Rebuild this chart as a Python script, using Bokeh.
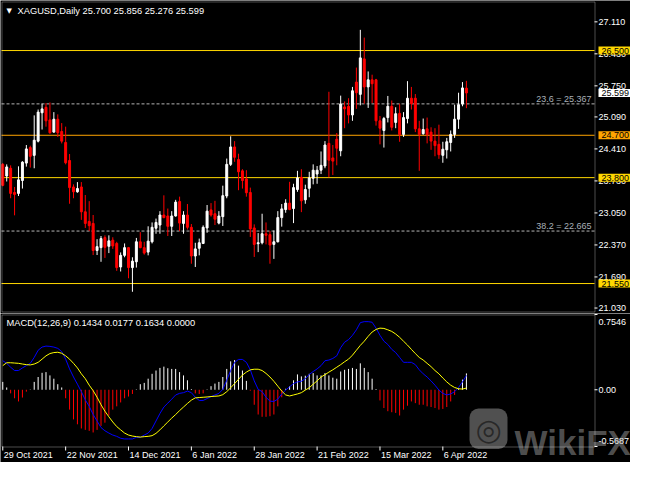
from bokeh.plotting import figure
from bokeh.models import Range1d, Label, ColumnDataSource, BoxAnnotation
from bokeh.core.properties import value
from bokeh.layouts import column
from bokeh.embed import file_html
from bokeh.resources import INLINE

# ---------------- data ----------------
title_text = "XAGUSD,Daily  25.700 25.856 25.276 25.599"
macd_text = "MACD(12,26,9) 0.1434 0.0177 0.1634 0.0000"

opens = [24.082, 23.835, 23.999, 23.485, 23.465, 23.739, 24.109, 24.438, 24.273, 24.575,
         25.178, 25.294, 25.027, 24.767, 25.041, 24.781, 24.548, 24.164, 23.602, 23.499,
         23.602, 23.074, 22.869, 22.827, 22.252, 22.313, 22.526, 22.341, 22.471, 22.402,
         21.902, 22.149, 22.313, 21.889, 22.012, 22.437, 22.313, 22.218, 22.437, 22.725,
         22.793, 23.006, 22.985, 22.766, 22.985, 23.293, 22.827, 23.006, 22.745, 22.135,
         22.300, 22.402, 22.731, 23.115, 23.033, 22.834, 22.971, 23.410, 24.082, 24.452,
         24.184, 23.944, 23.773, 23.485, 22.731, 22.396, 22.416, 22.608, 22.588, 22.382,
         22.437, 22.951, 23.122, 23.259, 23.143, 23.547, 23.807, 23.328, 23.574, 23.787,
         23.876, 23.958, 24.048, 24.528, 24.219, 24.617, 24.370, 25.302, 25.316, 25.131,
         25.830, 25.569, 26.323, 25.727, 25.878, 25.878, 25.007, 24.802, 25.076, 25.316,
         24.973, 25.165, 24.719, 25.055, 25.487, 25.487, 24.836, 24.733, 24.836, 24.767,
         24.576, 24.507, 24.274, 24.391, 24.548, 24.719, 25.042, 25.364, 25.700]
highs = [24.109, 24.082, 24.061, 23.602, 24.040, 24.150, 24.493, 24.479, 25.123, 25.247,
         25.370, 25.384, 25.397, 25.192, 25.144, 24.959, 24.883, 24.301, 23.657, 23.705,
         23.705, 23.431, 23.300, 23.006, 22.492, 22.560, 22.574, 22.574, 22.533, 22.437,
         22.211, 22.402, 22.327, 22.108, 22.519, 22.642, 22.437, 22.766, 22.848, 22.930,
         23.088, 23.424, 23.143, 23.088, 23.328, 23.396, 23.088, 23.239, 22.814, 22.416,
         22.505, 22.786, 23.218, 23.259, 23.307, 23.088, 23.629, 24.205, 24.678, 24.575,
         24.308, 23.979, 23.958, 23.588, 22.807, 22.622, 23.033, 22.848, 22.663, 22.677,
         23.088, 23.239, 23.341, 23.711, 23.670, 23.944, 23.979, 23.650, 23.924, 24.082,
         24.047, 24.356, 24.576, 25.624, 24.493, 24.747, 25.542, 25.419, 25.487, 25.727,
         26.138, 26.940, 26.775, 26.056, 25.987, 25.898, 25.110, 25.090, 25.535, 25.439,
         25.295, 25.371, 25.192, 25.850, 25.727, 25.576, 25.007, 25.055, 25.076, 24.870,
         24.850, 24.925, 24.562, 24.644, 24.802, 25.350, 25.604, 25.830, 25.856]
lows = [23.616, 23.718, 23.362, 22.999, 23.410, 23.568, 24.034, 24.013, 23.999, 24.548,
        24.822, 24.883, 24.733, 24.753, 24.664, 24.527, 24.082, 23.245, 23.362, 23.479,
        22.903, 22.731, 22.663, 22.156, 22.156, 22.012, 22.094, 22.197, 22.286, 21.820,
        21.806, 22.108, 21.662, 21.375, 21.889, 22.300, 22.163, 22.149, 22.402, 22.608,
        22.608, 22.937, 22.560, 22.560, 22.971, 22.663, 22.608, 22.697, 21.971, 21.902,
        22.149, 22.389, 22.629, 22.971, 22.793, 22.807, 22.773, 23.362, 24.047, 24.136,
        23.533, 23.568, 23.396, 22.540, 22.115, 22.218, 22.382, 22.382, 21.971, 22.074,
        22.423, 22.759, 23.054, 23.108, 22.834, 23.499, 23.067, 23.245, 23.383, 23.657,
        23.670, 23.876, 24.000, 23.808, 23.856, 24.062, 24.254, 24.850, 24.953, 25.007,
        25.261, 25.336, 25.371, 25.281, 25.384, 24.905, 24.507, 24.439, 24.973, 24.802,
        24.850, 24.562, 24.665, 24.953, 25.247, 24.767, 23.945, 24.713, 24.528, 24.391,
        24.254, 24.199, 24.116, 24.206, 24.356, 24.644, 24.836, 25.316, 25.276]
closes = [23.636, 24.027, 23.465, 23.444, 23.753, 24.129, 24.410, 24.253, 24.595, 25.192,
          25.260, 25.007, 24.753, 25.041, 24.753, 24.575, 24.116, 23.588, 23.499, 23.568,
          23.074, 22.827, 22.779, 22.252, 22.334, 22.505, 22.320, 22.457, 22.348, 21.889,
          22.149, 22.313, 21.889, 22.026, 22.437, 22.313, 22.197, 22.451, 22.745, 22.848,
          23.006, 22.951, 22.766, 22.985, 23.280, 22.834, 23.006, 22.745, 22.135, 22.286,
          22.416, 22.745, 23.088, 23.006, 22.917, 22.985, 23.417, 24.082, 24.452, 24.232,
          23.924, 23.739, 23.479, 22.711, 22.382, 22.416, 22.608, 22.574, 22.368, 22.437,
          22.951, 23.136, 23.259, 23.122, 23.588, 23.794, 23.307, 23.547, 23.794, 23.958,
          23.958, 24.061, 24.493, 24.171, 24.151, 24.425, 25.364, 25.261, 25.131, 25.645,
          25.604, 26.344, 25.727, 25.878, 25.795, 25.007, 24.850, 25.055, 25.316, 24.870,
          25.158, 24.713, 25.076, 25.487, 25.371, 24.836, 24.719, 24.822, 24.713, 24.576,
          24.480, 24.288, 24.404, 24.562, 24.719, 25.042, 25.350, 25.706, 25.599]

macd_main = [0.291, 0.265, 0.226, 0.193, 0.193, 0.219, 0.242, 0.265, 0.324, 0.396,
             0.428, 0.438, 0.435, 0.428, 0.415, 0.383, 0.307, 0.209, 0.128, 0.056,
             -0.019, -0.101, -0.166, -0.248, -0.313, -0.379, -0.411, -0.434, -0.454, -0.467,
             -0.486, -0.493, -0.493, -0.493, -0.477, -0.477, -0.454, -0.434, -0.388, -0.313,
             -0.238, -0.173, -0.134, -0.094, -0.052, -0.036, -0.029, -0.013, -0.029, -0.075,
             -0.107, -0.107, -0.088, -0.068, -0.052, -0.036, 0.004, 0.095, 0.193, 0.275,
             0.304, 0.304, 0.275, 0.200, 0.089, 0.004, -0.019, -0.075, -0.114, -0.117,
             -0.094, -0.042, -0.003, 0.030, 0.062, 0.079, 0.085, 0.111, 0.154, 0.183,
             0.209, 0.242, 0.291, 0.298, 0.314, 0.340, 0.422, 0.477, 0.503, 0.546,
             0.601, 0.673, 0.683, 0.683, 0.677, 0.618, 0.546, 0.487, 0.454, 0.405,
             0.373, 0.324, 0.275, 0.275, 0.275, 0.252, 0.200, 0.160, 0.128, 0.089,
             0.046, -0.003, -0.036, -0.052, -0.042, -0.019, 0.023, 0.079, 0.143]
macd_signal = [0.242, 0.271, 0.271, 0.268, 0.265, 0.258, 0.252, 0.249, 0.258, 0.275,
               0.307, 0.340, 0.363, 0.373, 0.376, 0.366, 0.340, 0.307, 0.265, 0.219,
               0.160, 0.111, 0.046, -0.009, -0.075, -0.150, -0.215, -0.271, -0.323, -0.369,
               -0.402, -0.434, -0.454, -0.464, -0.470, -0.474, -0.470, -0.467, -0.460, -0.437,
               -0.402, -0.362, -0.323, -0.284, -0.248, -0.209, -0.173, -0.137, -0.104, -0.081,
               -0.078, -0.075, -0.072, -0.068, -0.065, -0.062, -0.049, -0.019, 0.020, 0.062,
               0.105, 0.147, 0.177, 0.200, 0.206, 0.206, 0.193, 0.164, 0.128, 0.085,
               0.036, -0.013, -0.052, -0.062, -0.052, -0.042, -0.029, -0.003, 0.020, 0.056,
               0.089, 0.128, 0.151, 0.177, 0.200, 0.226, 0.252, 0.281, 0.307, 0.347,
               0.396, 0.445, 0.487, 0.536, 0.579, 0.605, 0.618, 0.615, 0.601, 0.585,
               0.559, 0.526, 0.487, 0.448, 0.405, 0.363, 0.324, 0.298, 0.265, 0.232,
               0.193, 0.160, 0.118, 0.079, 0.046, 0.023, 0.010, 0.007, 0.017]
macd_hist = [0.079, 0.023, -0.036, -0.085, -0.117, -0.078, -0.019, 0.003, 0.079, 0.128,
             0.170, 0.177, 0.144, 0.111, 0.056, 0.023, -0.085, -0.199, -0.297, -0.346,
             -0.388, -0.402, -0.412, -0.428, -0.402, -0.362, -0.330, -0.258, -0.199, -0.166,
             -0.127, -0.085, -0.068, -0.042, 0.004, 0.056, 0.069, 0.111, 0.160, 0.193,
             0.219, 0.232, 0.216, 0.209, 0.209, 0.177, 0.144, 0.095, 0.007, -0.036,
             -0.042, -0.036, 0.004, 0.036, 0.062, 0.079, 0.128, 0.209, 0.285, 0.298,
             0.242, 0.193, 0.089, -0.009, -0.150, -0.248, -0.271, -0.271, -0.265, -0.248,
             -0.166, -0.075, 0.010, 0.036, 0.095, 0.154, 0.134, 0.141, 0.160, 0.167,
             0.144, 0.144, 0.167, 0.144, 0.121, 0.111, 0.183, 0.200, 0.209, 0.219,
             0.209, 0.265, 0.219, 0.177, 0.111, 0.007, -0.107, -0.183, -0.215, -0.225,
             -0.232, -0.258, -0.199, -0.160, -0.117, -0.134, -0.150, -0.150, -0.166, -0.173,
             -0.183, -0.199, -0.192, -0.173, -0.117, -0.052, 0.013, 0.102, 0.164]

date_idx = [0, 16, 32, 48, 64, 80, 96, 112]
date_labels = ["29 Oct 2021", "22 Nov 2021", "14 Dec 2021", "6 Jan 2022",
               "28 Jan 2022", "21 Feb 2022", "15 Mar 2022", "6 Apr 2022"]
price_ticks = [27.110, 26.430, 25.750, 25.090, 24.410, 23.730, 23.050, 22.370, 21.690, 21.030]
gold_levels = [26.500, 23.800, 21.550]
orange_levels = [24.700]
fib_levels = [25.367, 22.665]
fib_names = ["23.6", "38.2"]
last_close = 25.599
macd_ticks = [0.7546, 0.0, -0.5687]
macd_tick_labels = ["0.7546", "0.00", "-0.5687"]

# ---------------- layout constants ----------------
FONT = "Liberation Sans"
W = 630
FW = 593          # panel width in px (panel starts at px 1)
F1 = 310          # price panel height
F2 = 132          # MACD panel height
H1 = F1 + 3
H2 = F2 + 17
X0, X1 = -0.325, 150.6
Y0, Y1 = 20.956, 27.542
M0, M1 = -0.5687, 0.7546
GOLD = "#FFD700"
ORANGE = "#FFA500"

xpx = (X1 - X0) / FW
ypx1 = (Y1 - Y0) / F1
ypx2 = (M1 - M0) / F2
XS = X0 - 1 * xpx
XE = XS + W * xpx

xr = Range1d(XS, XE)

n = len(closes)
idx = list(range(n))
bull = [c >= o for o, c in zip(opens, closes)]
src = ColumnDataSource(dict(
    x=idx, h=highs, l=lows,
    top=[max(o, c) for o, c in zip(opens, closes)],
    bot=[min(o, c) for o, c in zip(opens, closes)],
    col=["#FFFFFF" if b else "#FF0000" for b in bull],
))


def make_fig(h, y0, y1):
    p = figure(width=W, height=h, x_range=xr, y_range=Range1d(y0, y1),
               output_backend="svg", toolbar_location=None,
               x_axis_location=None, y_axis_location=None,
               background_fill_color="black", border_fill_color="black",
               outline_line_color=None,
               min_border_left=0, min_border_right=0, min_border_top=0, min_border_bottom=0)
    p.grid.visible = False
    return p


def hline(p, levels, color, dash="solid"):
    p.segment(x0=[X0] * len(levels), x1=[X1] * len(levels), y0=levels, y1=levels,
              line_color=color, line_width=1, line_dash=dash)


# ---------------- main price panel ----------------
p1 = make_fig(H1, Y0 - 2 * ypx1, Y1 + 1 * ypx1)

hline(p1, fib_levels, "#B4B4B4", "3 2")
hline(p1, gold_levels, GOLD)
hline(p1, orange_levels, ORANGE)

p1.segment(x0="x", y0="h", x1="x", y1="l", line_color="col", line_width=1, source=src)
p1.vbar(x="x", width=0.5, top="top", bottom="bot", fill_color="col",
        line_color="col", line_width=1, source=src)

# panel frame
p1.add_layout(BoxAnnotation(left=X0 + 0.5 * xpx, right=X1 + 0.5 * xpx,
                            top=Y1 - 0.5 * ypx1, bottom=Y0 - 0.5 * ypx1,
                            fill_alpha=0, line_color="white", line_width=1))

# right price scale
nt = len(price_ticks)
p1.segment(x0=[X1] * nt, x1=[X1 + 3 * xpx] * nt, y0=price_ticks, y1=price_ticks,
           line_color="white", line_width=1)
p1.text(x=[X1 + 4 * xpx] * nt, y=price_ticks, text=[f"{t:.3f}" for t in price_ticks],
        text_color="white", text_font=value(FONT), text_font_size="9px",
        text_align="left", text_baseline="middle")

# title
p1.add_layout(Label(x=X0 + 5 * xpx, y=Y1 - 9.5 * ypx1, text="\u25BC", text_color="white",
                    text_font="DejaVu Sans", text_font_size="7px",
                    text_align="left", text_baseline="middle"))
p1.add_layout(Label(x=X0 + 16 * xpx, y=Y1 - 9.5 * ypx1, text=title_text, text_color="white",
                    text_font=FONT, text_font_size="9.3px",
                    text_align="left", text_baseline="middle"))

# fib labels
for lv, nm in zip(fib_levels, fib_names):
    p1.add_layout(Label(x=X1 - 3 * xpx, y=lv + 5 * ypx1, text=f"{nm} = {lv:.3f}",
                        text_color="#A8B0B8", text_font=FONT, text_font_size="9px",
                        text_align="right", text_baseline="middle"))


def price_box(fig, yv, txt, bg):
    fig.add_layout(Label(x=X1 + 4 * xpx, y=yv, text=txt, text_color="black",
                         text_font=FONT, text_font_size="9px",
                         text_align="left", text_baseline="middle",
                         background_fill_color=bg, padding=(3, 1)))


for lv in gold_levels:
    price_box(p1, lv, f"{lv:.3f}", GOLD)
for lv in orange_levels:
    price_box(p1, lv, f"{lv:.3f}", ORANGE)
price_box(p1, last_close, f"{last_close:.3f}", "white")

# ---------------- MACD panel ----------------
p2 = make_fig(H2, M0 - 16 * ypx2, M1 + 1 * ypx2)

hsrc = ColumnDataSource(dict(x=idx, z=[0.0] * n, v=macd_hist,
                             col=["#FFFFFF" if v >= 0 else "#FF0000" for v in macd_hist]))
p2.segment(x0="x", y0="z", x1="x", y1="v", line_color="col", line_width=1, source=hsrc)
p2.line(idx, macd_main, line_color="#0000FF", line_width=1)
p2.line(idx, macd_signal, line_color="#FFFF00", line_width=1)

# watermark (logo tile + name)
p2.add_layout(BoxAnnotation(left=X1 - 125 * xpx, right=X1 - 87 * xpx,
                            bottom=M0 - 2.5 * ypx2, top=M0 + 38 * ypx2,
                            fill_color="#BEBEBE", fill_alpha=0.42, line_color=None,
                            border_radius=9))
p2.add_layout(Label(x=X1 - 106 * xpx, y=M0 + 17.5 * ypx2, text="\u25CE", text_color="#1E1E1E",
                    text_alpha=0.8, text_font="DejaVu Sans", text_font_size="30px",
                    text_align="center", text_baseline="middle"))
p2.add_layout(Label(x=X1 - 80 * xpx, y=M0 + 4.5 * ypx2, text="WikiFX", text_color="#BEBEBE",
                    text_alpha=0.42, text_font=FONT, text_font_style="bold",
                    text_font_size="35px", text_align="left", text_baseline="alphabetic"))

p2.add_layout(BoxAnnotation(left=X0 + 0.5 * xpx, right=X1 + 0.5 * xpx,
                            top=M1 - 0.5 * ypx2, bottom=M0 - 0.5 * ypx2,
                            fill_alpha=0, line_color="white", line_width=1))

mt = len(macd_ticks)
p2.segment(x0=[X1] * mt, x1=[X1 + 3 * xpx] * mt, y0=macd_ticks, y1=macd_ticks,
           line_color="white", line_width=1)
macd_label_y = [M1 - 7.5 * ypx2, 0.0, M0 + 6 * ypx2]
p2.text(x=[X1 + 4 * xpx] * mt, y=macd_label_y, text=macd_tick_labels,
        text_color="white", text_font=value(FONT), text_font_size="9px",
        text_align="left", text_baseline="middle")

p2.add_layout(Label(x=X0 + 5 * xpx, y=M1 - 8.5 * ypx2, text=macd_text, text_color="white",
                    text_font=FONT, text_font_size="9.3px",
                    text_align="left", text_baseline="middle"))

# date scale
nd = len(date_idx)
p2.segment(x0=date_idx, x1=date_idx, y0=[M0] * nd, y1=[M0 - 4 * ypx2] * nd,
           line_color="white", line_width=1)
p2.text(x=[i + 1 * xpx for i in date_idx], y=[M0 - 8.5 * ypx2] * nd, text=date_labels,
        text_color="white", text_font=value(FONT), text_font_size="9px",
        text_align="left", text_baseline="middle")

layout = column(p1, p2)
html = file_html(layout, INLINE)
html = html.replace("<body>", '<body style="background-color:#000000;">', 1)
open("out.html", "w").write(html)
